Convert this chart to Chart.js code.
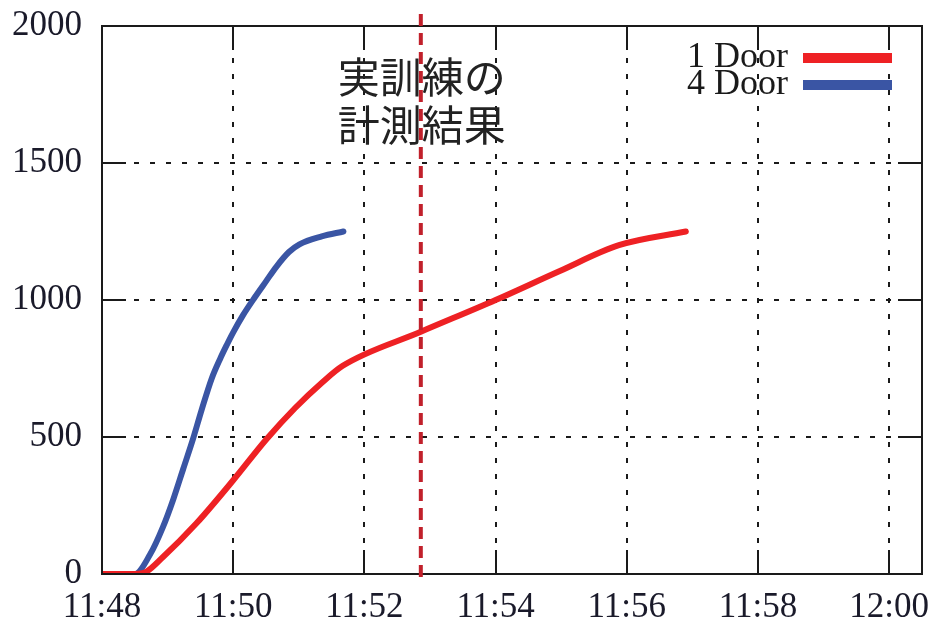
<!DOCTYPE html>
<html>
<head>
<meta charset="utf-8">
<script src="https://cdn.jsdelivr.net/npm/chart.js@4/dist/chart.umd.min.js"></script>
<style>
  html, body { margin: 0; padding: 0; background: #fff; }
  #wrap { width: 936px; height: 619px; position: relative; }
</style>
</head>
<body>
<div id="wrap"><canvas id="c" width="936" height="619"></canvas></div>
<script>
// Minutes elapsed since 11:48
const door1Minutes = [0, 0.5, 0.65, 0.93, 1.44, 2.0, 2.5, 2.94, 3.36, 3.67, 4.86, 6.0, 6.97, 7.88, 8.9];
const door1Count   = [0, 0, 5, 62, 185, 342, 490, 605, 700, 760, 884, 1000, 1105, 1200, 1250];

const door4Minutes = [0, 0.5, 0.73, 0.93, 1.09, 1.24, 1.39, 1.52, 1.67, 1.8, 1.9, 2.0, 2.15, 2.33, 2.5, 2.66, 2.85, 3.01, 3.35, 3.68];
const door4Count   = [0, 0, 70, 172, 275, 385, 495, 600, 712, 785, 835, 882, 945, 1010, 1068, 1122, 1175, 1203, 1232, 1250];

const xTickMinutes = [0, 2, 4, 6, 8, 10, 12];
const xTickLabels  = ['11:48', '11:50', '11:52', '11:54', '11:56', '11:58', '12:00'];
const yTickValues  = [0, 500, 1000, 1500, 2000];

const seriesLabels = ['1 Door', '4 Door'];
const seriesColors = ['#ee2124', '#3a55a4'];

// Time of the actual drill measurement
const drillMinute = 4.86;
const drillText = ['実訓練の', '計測結果'];

const toPoints = (xs, ys) => xs.map((x, i) => ({ x, y: ys[i] }));

const serifFont = "'Liberation Serif', 'DejaVu Serif', serif";

const frameAndTicks = {
  id: 'frameAndTicks',
  afterDatasetsDraw(chart) {
    const { ctx, chartArea: a, scales } = chart;
    ctx.save();
    ctx.strokeStyle = '#1a1a1a';
    ctx.lineWidth = 2;
    ctx.setLineDash([]);
    const L = 24;
    ctx.beginPath();
    scales.x.ticks.forEach(t => {
      const px = Math.round(scales.x.getPixelForValue(t.value));
      ctx.moveTo(px, a.bottom); ctx.lineTo(px, a.bottom - L);
      ctx.moveTo(px, a.top); ctx.lineTo(px, a.top + L);
    });
    scales.y.ticks.forEach(t => {
      const py = Math.round(scales.y.getPixelForValue(t.value));
      ctx.moveTo(a.left, py); ctx.lineTo(a.left + L, py);
      ctx.moveTo(a.right, py); ctx.lineTo(a.right - L, py);
    });
    ctx.stroke();
    ctx.strokeRect(a.left, a.top, a.right - a.left, a.bottom - a.top);
    ctx.restore();
  }
};

const drillMarker = {
  id: 'drillMarker',
  afterDraw(chart) {
    const { ctx, chartArea: a, scales } = chart;
    const px = scales.x.getPixelForValue(drillMinute);
    ctx.save();
    ctx.strokeStyle = '#c1202b';
    ctx.lineWidth = 4;
    ctx.setLineDash([12, 7]);
    ctx.beginPath();
    ctx.moveTo(px, a.top - 12);
    ctx.lineTo(px, a.bottom + 4);
    ctx.stroke();
    ctx.setLineDash([]);
    ctx.fillStyle = '#222';
    ctx.font = "42px 'Noto Sans CJK JP', 'Noto Sans', sans-serif";
    ctx.textAlign = 'center';
    ctx.textBaseline = 'middle';
    ctx.fillText(drillText[0], px + 1, a.top + 51);
    ctx.fillText(drillText[1], px + 1, a.top + 99);
    ctx.restore();
  }
};

const cornerLegend = {
  id: 'cornerLegend',
  afterDraw(chart) {
    const { ctx, chartArea: a } = chart;
    ctx.save();
    ctx.font = '36px ' + serifFont;
    ctx.textAlign = 'right';
    ctx.textBaseline = 'middle';
    chart.data.datasets.forEach((ds, i) => {
      const cy = a.top + 32 + i * 27;
      ctx.fillStyle = '#1a1a1a';
      ctx.fillText(ds.label, a.right - 134, cy);
      ctx.fillStyle = ds.borderColor;
      ctx.fillRect(a.right - 119, cy - 5, 89, 10);
    });
    ctx.restore();
  }
};

const lineStyle = {
  borderWidth: 6,
  pointRadius: 0,
  cubicInterpolationMode: 'monotone',
  borderCapStyle: 'round',
  borderJoinStyle: 'round',
  fill: false
};

new Chart(document.getElementById('c'), {
  type: 'line',
  data: {
    datasets: [
      Object.assign({
        label: seriesLabels[0],
        data: toPoints(door1Minutes, door1Count),
        borderColor: seriesColors[0]
      }, lineStyle),
      Object.assign({
        label: seriesLabels[1],
        data: toPoints(door4Minutes, door4Count),
        borderColor: seriesColors[1]
      }, lineStyle)
    ]
  },
  options: {
    responsive: false,
    animation: false,
    events: [],
    layout: { padding: { top: 26, right: 14, left: 0, bottom: 0 } },
    plugins: { legend: { display: false }, tooltip: { enabled: false } },
    scales: {
      x: {
        type: 'linear',
        min: 0,
        max: 12.5,
        afterBuildTicks: s => { s.ticks = xTickMinutes.map(v => ({ value: v })); },
        afterFit: s => { s.height = 45; s.paddingLeft = 0; s.paddingRight = 0; },
        grid: {
          color: '#1a1a1a',
          lineWidth: 2,
          drawTicks: false
        },
        border: { display: false, dash: [5, 11] },
        ticks: {
          padding: 13,
          maxRotation: 0,
          autoSkip: false,
          color: '#1a1a2a',
          font: { family: serifFont, size: 35 },
          callback: v => xTickLabels[xTickMinutes.indexOf(v)]
        }
      },
      y: {
        min: 0,
        max: 2000,
        afterBuildTicks: s => { s.ticks = yTickValues.map(v => ({ value: v })); },
        afterFit: s => { s.width = 102; s.paddingTop = 0; s.paddingBottom = 0; },
        grid: {
          color: '#1a1a1a',
          lineWidth: 2,
          drawTicks: false
        },
        border: { display: false, dash: [5, 11] },
        ticks: {
          padding: 20,
          color: '#1a1a2a',
          font: { family: serifFont, size: 35 },
          callback: v => String(v)
        }
      }
    }
  },
  plugins: [frameAndTicks, drillMarker, cornerLegend]
});
</script>
</body>
</html>
